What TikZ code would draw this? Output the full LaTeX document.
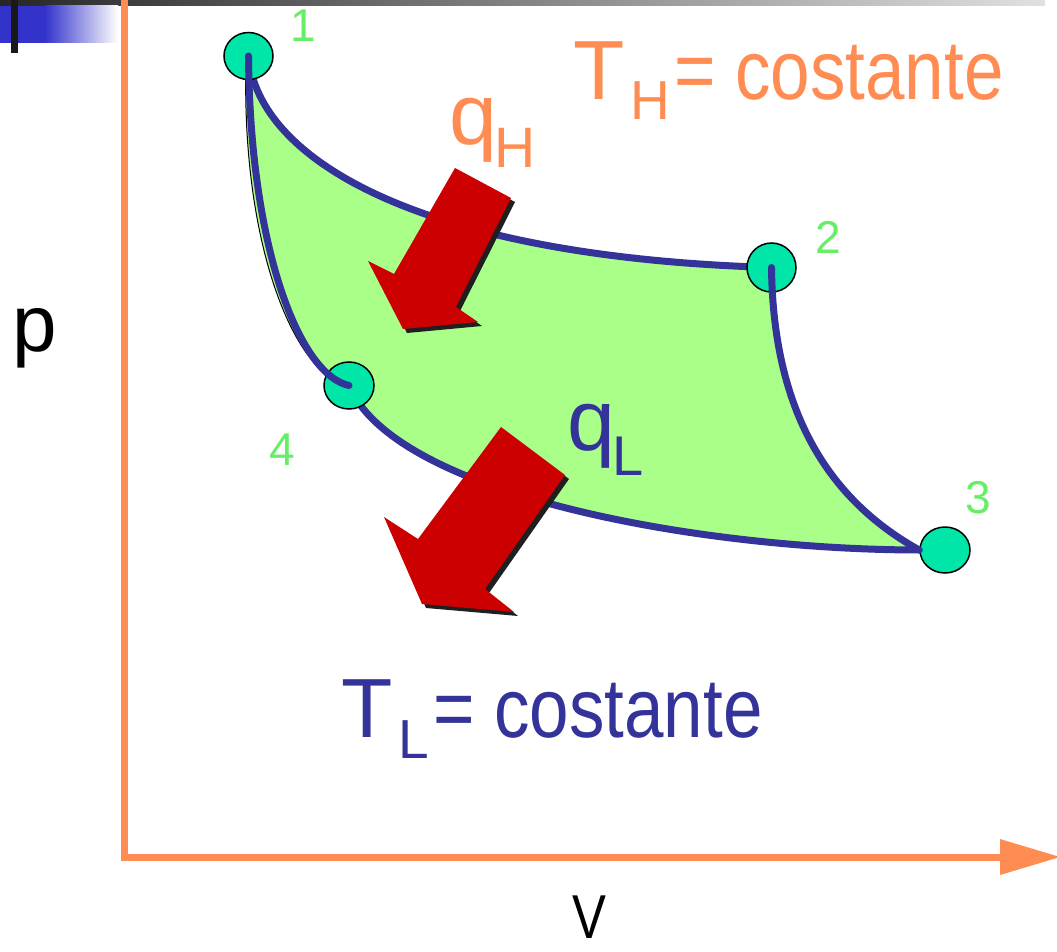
\documentclass[tikz,border=0pt]{standalone}
\usepackage{fontspec}
\setmainfont{Liberation Sans}
\usetikzlibrary{shapes.geometric}
\definecolor{axisor}{RGB}{255,140,82}
\definecolor{cycblue}{RGB}{51,51,153}
\definecolor{arrred}{RGB}{204,0,0}
\definecolor{cycfill}{RGB}{170,255,136}
\definecolor{ptfill}{RGB}{0,229,168}
\definecolor{digitgreen}{RGB}{102,238,102}
\definecolor{barblue}{RGB}{51,51,204}
\begin{document}
\begin{tikzpicture}[x=1pt,y=-1pt,
  ptnode/.style={ellipse, draw=black, line width=1.5pt, fill=ptfill, minimum width=49pt, minimum height=47pt, inner sep=0pt},
  cyc/.style={draw=cycblue, line width=7pt, line cap=round},
  txt/.style={anchor=base west, inner sep=0pt},
  digit/.style={txt, text=digitgreen, font=\fontsize{46}{46}\selectfont},
  bigarrow/.style={fill=arrred},
  arrshadow/.style={fill=black!88}]
\useasboundingbox (0,0) rectangle (1057,952);
% header decoration
\shade[left color=black!85, right color=black!12] (0,0) rectangle (1045,6);
\fill[barblue] (0,6) rectangle (45,43);
\shade[left color=barblue, right color=white] (45,6) rectangle (118,43);
\fill[black!90] (11,0) rectangle (18,53);
% axes
\draw[axisor, line width=7pt] (124.5,0) -- (124.5,857) -- (1002,857);
\fill[axisor] (1000,839) -- (1060,857) -- (1000,875) -- cycle;
% point coordinates
\coordinate (c1) at (248.5,56);
\coordinate (c2) at (771.5,267.5);
\coordinate (c3) at (945,550);
\coordinate (c4) at (349,385.5);
\coordinate (c3w) at (921,550);
% green area
\filldraw[fill=cycfill, draw=black, line width=1pt]
  (c1) .. controls (258,160) and (420,257) .. (c2)
  .. controls (773,400) and (820,495) .. (c3w)
  .. controls (700,550) and (395,495) .. (c4)
  .. controls (297,378) and (241,250) .. (246,62) -- cycle;
% isotherms / adiabats drawn below the points
\draw[cyc] (c1) .. controls (258,160) and (420,257) .. (c2);
\draw[cyc] (c3w) .. controls (700,550) and (395,495) .. (c4);
% points
\node[ptnode] (n1) at (c1) {};
\node[ptnode, minimum height=49pt] (n2) at (c2) {};
\node[ptnode, minimum width=50pt, minimum height=46pt] (n3) at (c3) {};
\node[ptnode, minimum width=50pt] (n4) at (c4) {};
% curves drawn above the points
\draw[cyc] (c2) .. controls (773,400) and (820,495) .. (n3.west);
\draw[cyc] (c4) .. controls (300,375) and (250,250) .. (c1);
% heat arrows
\fill[arrshadow, shift={(4,4)}] (455,168) -- (511,198) -- (456,307) -- (478,322) -- (403,329) -- (368,261) -- (394,274) -- cycle;
\fill[bigarrow] (455,168) -- (511,198) -- (456,307) -- (478,322) -- (403,329) -- (368,261) -- (394,274) -- cycle;
\fill[arrshadow, shift={(4,4)}] (501,427) -- (565,475) -- (485,589) -- (514,612) -- (422,604) -- (384,517) -- (418,539) -- cycle;
\fill[bigarrow] (501,427) -- (565,475) -- (485,589) -- (514,612) -- (422,604) -- (384,517) -- (418,539) -- cycle;
% labels
\node[digit] (l1) at (290,42) {1};
\node[digit] (l2) at (815.5,253) {2};
\node[digit] (l3) at (965,513) {3};
\node[digit] (l4) at (269,465) {4};
\node[txt, text=axisor] (th) at (573,100) {\fontsize{84}{84}\selectfont T\kern6pt\raisebox{-20pt}{\fontsize{55}{55}\selectfont H}\kern4pt\scalebox{0.845}[1]{= costante}};
\node[txt, text=cycblue] (tl) at (341,737) {\fontsize{84}{84}\selectfont T\kern6pt\raisebox{-21pt}{\fontsize{55}{55}\selectfont L}\kern4pt\scalebox{0.845}[1]{= costante}};
\node[txt, text=axisor] (qh) at (449,145) {\fontsize{86}{86}\selectfont q\kern-3pt\raisebox{-23pt}{\fontsize{57}{57}\selectfont H}};
\node[txt, text=cycblue] (ql) at (567,450) {\fontsize{86}{86}\selectfont q\kern-3pt\raisebox{-25pt}{\fontsize{56}{56}\selectfont L}};
\node[txt] (py) at (12,351) {\fontsize{80}{80}\selectfont p};
\node[txt] (vx) at (572,938) {\fontsize{62}{62}\selectfont\scalebox{0.82}[1]{V}};
\end{tikzpicture}
\end{document}
